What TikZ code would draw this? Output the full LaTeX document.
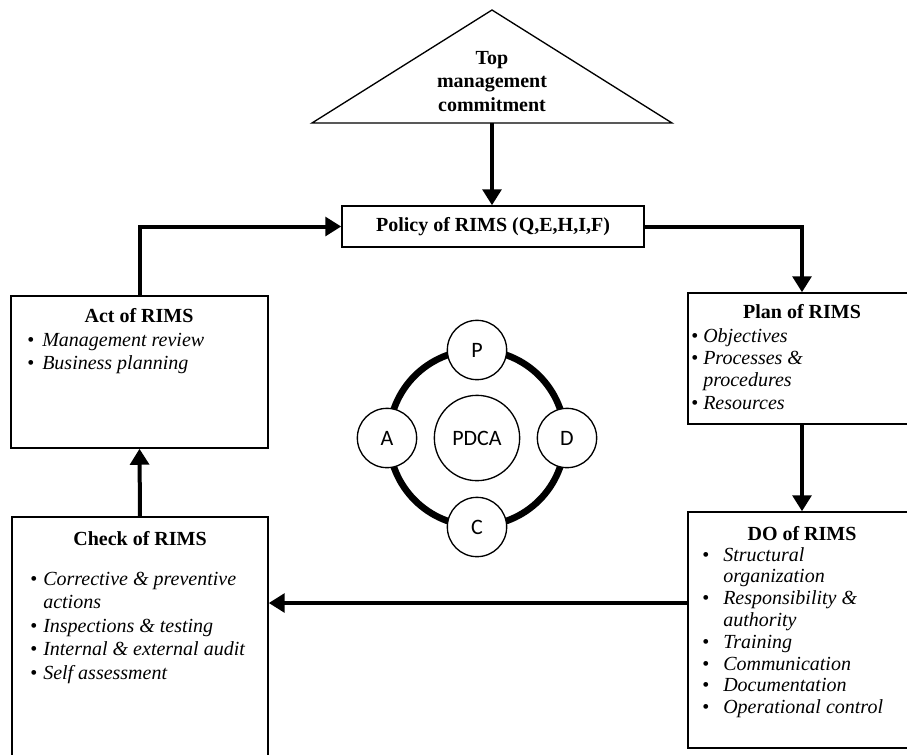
\documentclass[tikz,border=0pt]{standalone}
\usepackage{fontspec}
\setmainfont{Liberation Serif}
\newfontfamily\calfont{Carlito}
\usetikzlibrary{arrows.meta,positioning,fit}

\newlength\bulw
\newcommand{\itm}[1]{\makebox[\bulw][l]{\textbullet}\textit{#1}}
\newcommand{\cnt}[1]{\hspace*{\bulw}\textit{#1}}

\tikzset{
  box/.style={draw, line width=1.1pt, inner sep=0pt},
  flow/.style={-{Triangle[length=12pt,width=14pt]}, line width=3pt},
  ttl/.style={font=\fontsize{15}{17.6}\selectfont\bfseries, inner sep=0pt, align=center},
  lst/.style 2 args={font=\fontsize{15}{#1}\selectfont, inner sep=0pt, align=left,
    anchor=base west, execute at begin node={\setlength\bulw{#2}}},
  phase/.style={circle, draw, line width=1pt, fill=white, minimum size=44.5pt,
    inner sep=0pt, font=\calfont\fontsize{16.5}{18}\selectfont},
}

\begin{document}
\begin{tikzpicture}[x=0.75pt,y=-0.75pt]
\clip (0,0) rectangle (907,754);

% top management (base = last line)
\draw[line width=1pt] (312,123) -- (492,10) -- (672,123) -- cycle;
\coordinate (topbase) at (492,123);
\node[ttl, anchor=base] (top) at (492,111) {Top\\management\\commitment};

% policy
\node[box, minimum width=226.5pt, minimum height=30.75pt,
  font=\fontsize{15}{17}\selectfont\bfseries] (policy) at (493,226.5) {Policy of RIMS (Q,E,H,I,F)};

% the four boxes
\node[box, fit={(11,296) (268,448)}] (act) {};
\node[box, fit={(688,293) (916,424)}] (plan) {};
\node[box, fit={(688,512) (916,748)}] (do) {};
\node[box, fit={(12,517) (268,770)}] (check) {};

% lists sit on the baseline of their last line
\node[ttl, anchor=base] (acttitle) at (139,322) {Act of RIMS};
\node[lst={17.25pt}{11.25pt}] (actlist) at (27,369)
  {\itm{Management review}\\ \itm{Business planning}};

\node[ttl, anchor=base] (plantitle) at (802,318) {Plan of RIMS};
\node[lst={16.7pt}{9pt}] (planlist) at (691,409)
  {\itm{Objectives}\\ \itm{Processes \&}\\ \cnt{procedures}\\ \itm{Resources}};

\node[ttl, anchor=base] (dotitle) at (802,540) {DO of RIMS};
\node[lst={16.35pt}{15.75pt}] (dolist) at (702,713.6)
  {\itm{Structural}\\ \cnt{organization}\\ \itm{Responsibility \&}\\ \cnt{authority}\\
   \itm{Training}\\ \itm{Communication}\\ \itm{Documentation}\\ \itm{Operational control}};

\node[ttl, anchor=base] (checktitle) at (140,545) {Check of RIMS};
\node[lst={17.7pt}{9.75pt}] (checklist) at (30,679.4)
  {\itm{Corrective \& preventive}\\ \cnt{actions}\\ \itm{Inspections \& testing}\\
   \itm{Internal \& external audit}\\ \itm{Self assessment}};

% connectors
\draw[flow] (topbase) -- (topbase |- policy.north);
\draw[flow] (act.north) |- (policy.west);
\draw[flow] (policy.east) -| (plan.north);
\draw[flow] (plan.south) -- (do.north);
\coordinate (dc) at (688,603);
\draw[flow] (dc) -- (dc -| check.east);
\draw[flow] (check.north) -- (act.south);

% PDCA wheel
\node[circle, draw, line width=1pt, minimum size=64pt, inner sep=0pt,
  font=\calfont\fontsize{16.5}{18}\selectfont] (pdca) at (477,438) {PDCA};
\draw[line width=5pt] (pdca) circle[radius=88];
\node[phase] (p) at (477,350) {P};
\node[phase] (d) at (567,438) {D};
\node[phase] (c) at (477,527) {C};
\node[phase] (a) at (387,438) {A};
\end{tikzpicture}
\end{document}
